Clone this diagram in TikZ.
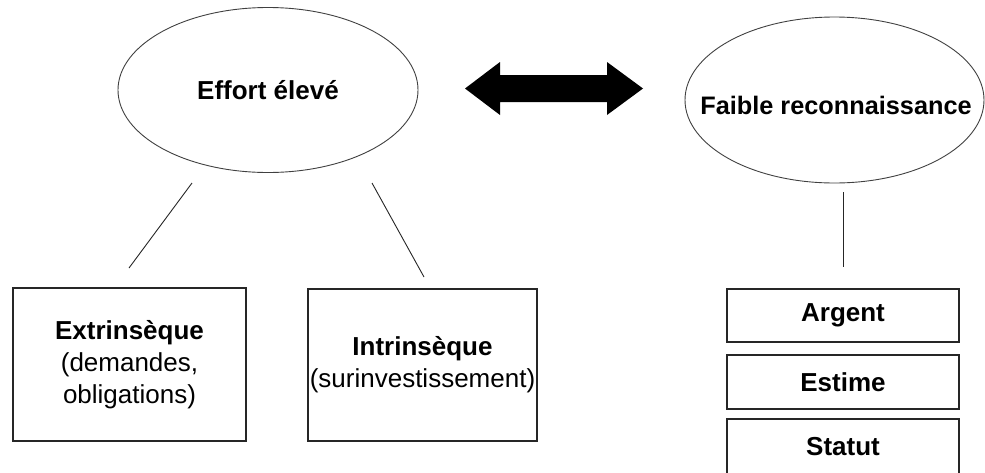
\documentclass[tikz,border=0pt]{standalone}
\usepackage{fontspec}
\setmainfont{Liberation Sans}
\usetikzlibrary{shapes.geometric}
\begin{document}
\begin{tikzpicture}[x=1pt,y=-1pt,
  oval/.style={draw=black!75, line width=0.9pt, ellipse, minimum width=300pt, minimum height=165pt, inner sep=0pt},
  ovaltext/.style={inner sep=0pt, font=\fontsize{26}{31}\selectfont\bfseries},
  box/.style={draw=black!85, line width=1.5pt, rectangle, inner sep=0pt, align=center, font=\fontsize{26}{32}\selectfont},
  smallbox/.style={box, minimum width=232pt, minimum height=53pt, font=\fontsize{26}{32}\selectfont\bfseries},
  link/.style={line width=0.9pt, draw=black!85}]
\useasboundingbox (0,0) rectangle (985,472);
\clip (0,0) rectangle (985,472);
% ellipses
\node[oval] (effort) at (268,90) {};
\node[ovaltext] (efforttxt) at (effort.center) {Effort élevé};
\node[oval, minimum width=299pt, minimum height=166pt] (faible) at (834.5,100) {};
\node[ovaltext, font=\fontsize{25.3}{31}\selectfont\bfseries] (faibletxt) at (836,105) {Faible reconnaissance};
% double arrow
\fill[black] (465,88.5) -- (500,62) -- (500,75) -- (607,75) -- (607,62) -- (643,88.5)
  -- (607,115) -- (607,102) -- (500,102) -- (500,115) -- cycle;
% boxes
\node[box, minimum width=233pt, minimum height=153pt] (extr) at (129.5,364.5)
  {\textbf{Extrinsèque}\\(demandes,\\obligations)};
\node[box, minimum width=229pt, minimum height=152pt] (intr) at (422.5,365)
  {\textbf{Intrinsèque}\\(surinvestissement)};
\node[smallbox] (argent) at (843,315.5) {Argent};
\node[smallbox, minimum height=54pt] (estime) at (843,382) {Estime};
\node[smallbox, minimum height=56pt] (statut) at (843,447) {Statut};
% connectors (free floating)
\coordinate (l1a) at (192,183); \coordinate (l1b) at (129,268);
\coordinate (l2a) at (372,183); \coordinate (l2b) at (424,277);
\coordinate (l3a) at (843,192); \coordinate (l3b) at (843,267);
\draw[link] (l1a) -- (l1b);
\draw[link] (l2a) -- (l2b);
\draw[link] (l3a) -- (l3b);
\end{tikzpicture}
\end{document}
